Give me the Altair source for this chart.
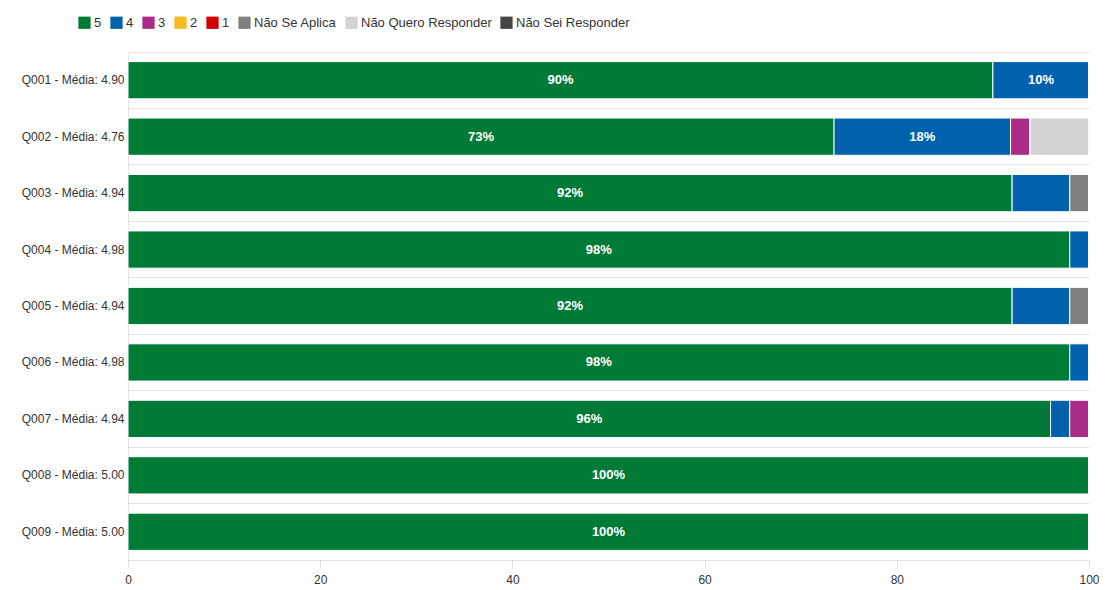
import altair as alt
import pandas as pd

questions = ["Q001 - Média: 4.90", "Q002 - Média: 4.76", "Q003 - Média: 4.94",
             "Q004 - Média: 4.98", "Q005 - Média: 4.94", "Q006 - Média: 4.98",
             "Q007 - Média: 4.94", "Q008 - Média: 5.00", "Q009 - Média: 5.00"]
categories = ["5", "4", "3", "2", "1", "Não Se Aplica", "Não Quero Responder", "Não Sei Responder"]
colors = ["#007a37", "#0062ad", "#aa2a87", "#f7b924", "#d40000", "#808080", "#d3d3d3", "#444444"]

# percentages per question, in category order
v5   = [90, 73.47, 92, 98, 92, 98, 96, 100, 100]
v4   = [10, 18.37, 6, 2, 6, 2, 2, 0, 0]
v3   = [0, 2.04, 0, 0, 0, 0, 2, 0, 0]
v2   = [0, 0, 0, 0, 0, 0, 0, 0, 0]
v1   = [0, 0, 0, 0, 0, 0, 0, 0, 0]
vNSA = [0, 0, 2, 0, 2, 0, 0, 0, 0]
vNQR = [0, 6.12, 0, 0, 0, 0, 0, 0, 0]
vNSR = [0, 0, 0, 0, 0, 0, 0, 0, 0]

series = [v5, v4, v3, v2, v1, vNSA, vNQR, vNSR]
rows = []
for ci, (cat, vals) in enumerate(zip(categories, series)):
    for q, v in zip(questions, vals):
        rows.append({"q": q, "cat": cat, "idx": ci, "pct": v})
df = pd.DataFrame(rows)

font = "Liberation Sans"

base = alt.Chart(df).transform_stack(
    stack="pct", groupby=["q"], as_=["x0", "x1"], sort=[alt.SortField("idx", order="ascending")]
).transform_calculate(
    mid="(datum.x0 + datum.x1) / 2",
    label="datum.pct >= 10 ? format(datum.pct, '.0f') + '%' : ''"
)

yenc = alt.Y("q:N", sort=questions, title=None,
             scale=alt.Scale(paddingInner=0, paddingOuter=0),
             axis=alt.Axis(labelFont=font, labelFontSize=12, labelColor="#333333",
                           ticks=False, labelPadding=4, domainColor="#e3e3e3",
                           grid=True, gridColor="#e3e3e3", bandPosition=0, labelLimit=200))

bars = base.mark_bar(height=alt.RelativeBandSize(0.66), stroke="white", strokeWidth=1).encode(
    y=yenc,
    x=alt.X("x0:Q", scale=alt.Scale(domain=[0, 100], nice=False), title=None,
            axis=alt.Axis(values=[0, 20, 40, 60, 80, 100], labelFont=font, labelFontSize=12,
                          labelColor="#333333", grid=False, tickColor="#e3e3e3", tickSize=8,
                          domainColor="#e3e3e3", labelPadding=6, labelFlush=False)),
    x2="x1:Q",
    color=alt.Color("cat:N", sort=categories,
                    scale=alt.Scale(domain=categories, range=colors),
                    legend=alt.Legend(title=None, orient="none", direction="horizontal",
                                      columns=8, legendX=-50, legendY=-36,
                                      symbolType="square", symbolSize=150,
                                      symbolStrokeWidth=0, labelFont=font, labelFontSize=13,
                                      labelColor="#333333", columnPadding=8,
                                      symbolOffset=0, labelOffset=3)),
)

texts = base.mark_text(font=font, fontSize=13, fontWeight="bold", color="white").encode(
    y=alt.Y("q:N", sort=questions),
    x=alt.X("mid:Q"),
    text="label:N",
)

chart = alt.layer(bars, texts).properties(
    width=961, height=508,
    padding={"left": 120, "top": 44, "right": 10, "bottom": 28},
    autosize="none",
).configure_view(stroke=None)

chart.save("out.html", embed_options={"renderer": "svg", "actions": False})
